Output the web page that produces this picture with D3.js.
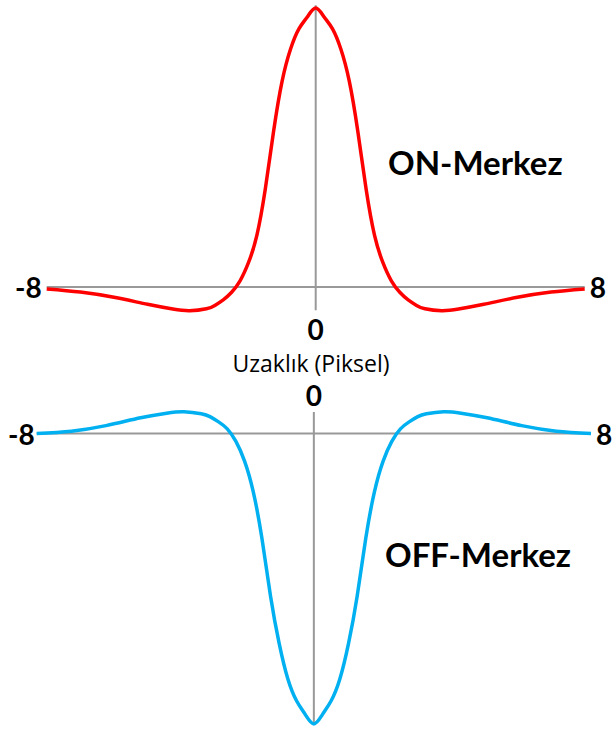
<!DOCTYPE html>
<html>
<head>
<meta charset="utf-8">
<script src="https://cdn.jsdelivr.net/npm/d3@7"></script>
<style>
  html, body { margin: 0; padding: 0; background: #ffffff; }
  svg { display: block; }
</style>
</head>
<body>
<svg id="chart" width="613" height="733"></svg>
<script>
// ---- data ----
const distance = [-8, -7, -6, -5, -4.25, -3.75, -3.25, -3, -2.75, -2.5, -2.25, -2, -1.75, -1.5, -1.25, -1, -0.75, -0.5, -0.25, 0,
                  0.25, 0.5, 0.75, 1, 1.25, 1.5, 1.75, 2, 2.25, 2.5, 2.75, 3, 3.25, 3.75, 4.25, 5, 6, 7, 8];
const onCenter = [-0.007, -0.018, -0.037, -0.062, -0.079, -0.085, -0.078, -0.066, -0.046, -0.019, 0.022, 0.087, 0.185, 0.35, 0.56, 0.737, 0.852, 0.925, 0.968, 1,
                  0.968, 0.925, 0.852, 0.737, 0.56, 0.35, 0.185, 0.087, 0.022, -0.019, -0.046, -0.066, -0.078, -0.085, -0.079, -0.062, -0.037, -0.018, -0.007];
const offCenter = [0, 0.008, 0.027, 0.054, 0.070, 0.075, 0.068, 0.058, 0.040, 0.016, -0.027, -0.095, -0.20, -0.36, -0.56, -0.723, -0.845, -0.92, -0.967, -1,
                   -0.967, -0.92, -0.845, -0.723, -0.56, -0.36, -0.20, -0.095, -0.027, 0.016, 0.040, 0.058, 0.068, 0.075, 0.070, 0.054, 0.027, 0.008, 0];
const tickValues = [-8, 0, 8];
const tickLabels = ["-8", "0", "8"];
const axisTitle = "Uzaklık (Piksel)";
const seriesNames = ["ON-Merkez", "OFF-Merkez"];

// ---- layout ----
const svg = d3.select("#chart");
const topX = d3.scaleLinear().domain([-8, 8]).range([46.7, 584.7]);
const topY = d3.scaleLinear().domain([0, 1]).range([287, 8]);
const botX = d3.scaleLinear().domain([-8, 8]).range([36.7, 591]);
const botY = d3.scaleLinear().domain([0, -1]).range([433.5, 724]);

const axisColor = "#999999";
const numFont = "Lato, 'Open Sans', sans-serif";

function drawAxes(x, y, vTop, vBot) {
  const g = svg.append("g");
  g.append("line")
    .attr("x1", x(-8)).attr("x2", x(8))
    .attr("y1", y(0)).attr("y2", y(0))
    .attr("stroke", axisColor).attr("stroke-width", 2);
  g.append("line")
    .attr("x1", x(0)).attr("x2", x(0))
    .attr("y1", y(vTop)).attr("y2", y(vBot))
    .attr("stroke", axisColor).attr("stroke-width", 2);
  return g;
}

// top panel
drawAxes(topX, topY, 1.01, -0.083);
// bottom panel
drawAxes(botX, botY, 0.074, -1);

const lineTop = d3.line().x((d, i) => topX(distance[i])).y(d => topY(d)).curve(d3.curveNatural);
const lineBot = d3.line().x((d, i) => botX(distance[i])).y(d => botY(d)).curve(d3.curveNatural);

svg.append("path").datum(onCenter)
  .attr("d", lineTop).attr("fill", "none")
  .attr("stroke", "#ff0000").attr("stroke-width", 3.5).attr("stroke-linejoin", "round");
svg.append("path").datum(offCenter)
  .attr("d", lineBot).attr("fill", "none")
  .attr("stroke", "#00b0f0").attr("stroke-width", 3.5).attr("stroke-linejoin", "round");

// tick labels
function numLabel(x, yPos, txt, anchor) {
  svg.append("text").attr("x", x).attr("y", yPos).text(txt)
    .attr("text-anchor", anchor)
    .attr("font-family", numFont).attr("font-weight", "bold")
    .attr("font-size", 28).attr("fill", "#000");
}
// top: -8 left, 8 right, 0 below
numLabel(topX(tickValues[0]) - 5, 298, tickLabels[0], "end");
numLabel(topX(tickValues[2]) + 5, 298, tickLabels[2], "start");
numLabel(topX(tickValues[1]), 340, tickLabels[1], "middle");
// bottom: -8 left, 8 right, 0 above
numLabel(botX(tickValues[0]) - 2, 445, tickLabels[0], "end");
numLabel(botX(tickValues[2]) + 5, 445, tickLabels[2], "start");
numLabel(botX(tickValues[1]), 406, tickLabels[1], "middle");

// axis title
svg.append("text").attr("x", 311).attr("y", 372).text(axisTitle)
  .attr("text-anchor", "middle")
  .attr("font-family", "'Open Sans', sans-serif").attr("font-size", 23).attr("fill", "#000");

// series labels
svg.append("text").attr("x", 388).attr("y", 175).text(seriesNames[0])
  .attr("font-family", numFont).attr("font-weight", "bold")
  .attr("font-size", 33).attr("fill", "#000");
svg.append("text").attr("x", 385).attr("y", 567).text(seriesNames[1])
  .attr("font-family", numFont).attr("font-weight", "bold")
  .attr("font-size", 33).attr("fill", "#000");
</script>
</body>
</html>
